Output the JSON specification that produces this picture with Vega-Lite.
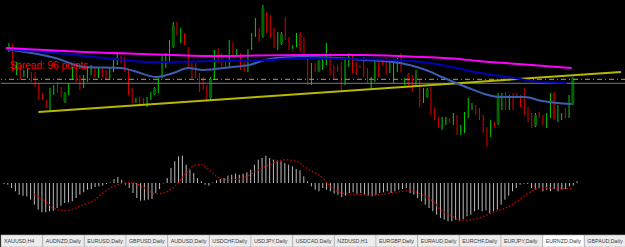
{
"$schema": "https://vega.github.io/schema/vega-lite/v6.json",
"background": "#000000",
"padding": 0,
"spacing": 0,
"bounds": "flush",
"config": {"view": {"stroke": null}, "axis": {"disable": true}, "legend": {"disable": true}},
"datasets": {
"candles": [
{"i":0,"o":101,"h":107,"l":98,"c":104},{"i":1,"o":95,"h":106,"l":78,"c":91},{"i":2,"o":79,"h":88,"l":75,"c":83},{"i":3,"o":80,"h":85,"l":70,"c":76},{"i":4,"o":75,"h":80,"l":73,"c":78},{"i":5,"o":75,"h":82,"l":72,"c":79},{"i":6,"o":75,"h":78,"l":68,"c":71},{"i":7,"o":73,"h":78,"l":63,"c":68},{"i":8,"o":61,"h":67,"l":50,"c":57},{"i":9,"o":55,"h":57,"l":50,"c":52},
{"i":10,"o":48,"h":50,"l":42,"c":45},{"i":11,"o":47,"h":62,"l":38,"c":51},{"i":12,"o":58,"h":65,"l":55,"c":62},{"i":13,"o":64,"h":68,"l":57,"c":60},{"i":14,"o":60,"h":63,"l":53,"c":56},{"i":15,"o":48,"h":58,"l":47,"c":57},{"i":16,"o":59,"h":67,"l":55,"c":63},{"i":17,"o":74,"h":83,"l":70,"c":78},{"i":18,"o":78,"h":82,"l":68,"c":74},{"i":19,"o":70,"h":75,"l":60,"c":65},
{"i":20,"o":66,"h":75,"l":62,"c":70},{"i":21,"o":72,"h":83,"l":68,"c":76},{"i":22,"o":78,"h":85,"l":75,"c":82},{"i":23,"o":79,"h":82,"l":73,"c":76},{"i":24,"o":75,"h":82,"l":72,"c":79},{"i":25,"o":80,"h":83,"l":73,"c":76},{"i":26,"o":77,"h":80,"l":70,"c":73},{"i":27,"o":74,"h":83,"l":70,"c":78},{"i":28,"o":82,"h":90,"l":78,"c":86},{"i":29,"o":89,"h":97,"l":85,"c":93},
{"i":30,"o":92,"h":94,"l":87,"c":89},{"i":31,"o":87,"h":93,"l":78,"c":83},{"i":32,"o":70,"h":80,"l":55,"c":66},{"i":33,"o":57,"h":62,"l":47,"c":53},{"i":34,"o":49,"h":52,"l":47,"c":51},{"i":35,"o":51,"h":53,"l":45,"c":48},{"i":36,"o":50,"h":52,"l":45,"c":47},{"i":37,"o":46,"h":53,"l":43,"c":50},{"i":38,"o":52,"h":58,"l":50,"c":56},{"i":39,"o":56,"h":63,"l":55,"c":62},
{"i":40,"o":62,"h":73,"l":57,"c":66},{"i":41,"o":80,"h":95,"l":72,"c":84},{"i":42,"o":86,"h":97,"l":82,"c":90},{"i":43,"o":95,"h":110,"l":87,"c":99},{"i":44,"o":103,"h":128,"l":102,"c":125},{"i":45,"o":123,"h":128,"l":115,"c":119},{"i":46,"o":112,"h":122,"l":107,"c":116},{"i":47,"o":113,"h":117,"l":105,"c":109},{"i":48,"o":95,"h":103,"l":82,"c":91},{"i":49,"o":82,"h":87,"l":72,"c":78},
{"i":50,"o":81,"h":87,"l":72,"c":77},{"i":51,"o":70,"h":77,"l":58,"c":66},{"i":52,"o":68,"h":73,"l":60,"c":64},{"i":53,"o":58,"h":65,"l":50,"c":54},{"i":54,"o":52,"h":73,"l":50,"c":71},{"i":55,"o":84,"h":100,"l":70,"c":88},{"i":56,"o":97,"h":102,"l":87,"c":93},{"i":57,"o":92,"h":97,"l":83,"c":88},{"i":58,"o":88,"h":90,"l":82,"c":85},{"i":59,"o":90,"h":110,"l":82,"c":94},
{"i":60,"o":104,"h":108,"l":93,"c":100},{"i":61,"o":96,"h":101,"l":93,"c":99},{"i":62,"o":92,"h":97,"l":80,"c":88},{"i":63,"o":86,"h":90,"l":78,"c":82},{"i":64,"o":84,"h":101,"l":78,"c":88},{"i":65,"o":104,"h":117,"l":100,"c":108},{"i":66,"o":118,"h":132,"l":113,"c":122},{"i":67,"o":118,"h":122,"l":108,"c":114},{"i":68,"o":114,"h":145,"l":112,"c":142},{"i":69,"o":132,"h":138,"l":117,"c":128},
{"i":70,"o":128,"h":135,"l":112,"c":124},{"i":71,"o":116,"h":122,"l":102,"c":112},{"i":72,"o":105,"h":118,"l":100,"c":109},{"i":73,"o":106,"h":118,"l":105,"c":116},{"i":74,"o":125,"h":133,"l":110,"c":121},{"i":75,"o":108,"h":113,"l":100,"c":104},{"i":76,"o":102,"h":105,"l":101,"c":104},{"i":77,"o":107,"h":117,"l":103,"c":111},{"i":78,"o":116,"h":118,"l":98,"c":100},{"i":79,"o":106,"h":113,"l":92,"c":102},
{"i":80,"o":82,"h":95,"l":65,"c":78},{"i":81,"o":73,"h":87,"l":65,"c":77},{"i":82,"o":84,"h":87,"l":78,"c":81},{"i":83,"o":79,"h":90,"l":78,"c":89},{"i":84,"o":83,"h":92,"l":80,"c":87},{"i":85,"o":92,"h":107,"l":85,"c":96},{"i":86,"o":90,"h":97,"l":75,"c":86},{"i":87,"o":80,"h":85,"l":70,"c":76},{"i":88,"o":83,"h":85,"l":78,"c":80},{"i":89,"o":80,"h":88,"l":60,"c":76},
{"i":90,"o":73,"h":92,"l":65,"c":77},{"i":91,"o":87,"h":97,"l":83,"c":91},{"i":92,"o":90,"h":95,"l":77,"c":86},{"i":93,"o":84,"h":88,"l":75,"c":80},{"i":94,"o":84,"h":85,"l":82,"c":83},{"i":95,"o":88,"h":93,"l":73,"c":84},{"i":96,"o":78,"h":82,"l":67,"c":74},{"i":97,"o":65,"h":73,"l":62,"c":69},{"i":98,"o":75,"h":90,"l":68,"c":79},{"i":99,"o":86,"h":90,"l":73,"c":82},
{"i":100,"o":87,"h":88,"l":85,"c":86},{"i":101,"o":86,"h":92,"l":75,"c":82},{"i":102,"o":80,"h":88,"l":77,"c":84},{"i":103,"o":76,"h":90,"l":67,"c":80},{"i":104,"o":82,"h":92,"l":78,"c":86},{"i":105,"o":90,"h":97,"l":78,"c":86},{"i":106,"o":67,"h":72,"l":65,"c":70},{"i":107,"o":76,"h":77,"l":65,"c":66},{"i":108,"o":70,"h":75,"l":58,"c":66},{"i":109,"o":68,"h":80,"l":63,"c":72},
{"i":110,"o":62,"h":70,"l":43,"c":58},{"i":111,"o":51,"h":62,"l":47,"c":55},{"i":112,"o":53,"h":62,"l":52,"c":61},{"i":113,"o":55,"h":63,"l":35,"c":51},{"i":114,"o":38,"h":42,"l":30,"c":35},{"i":115,"o":31,"h":33,"l":22,"c":28},{"i":116,"o":24,"h":33,"l":20,"c":28},{"i":117,"o":27,"h":33,"l":25,"c":30},{"i":118,"o":31,"h":32,"l":27,"c":29},{"i":119,"o":28,"h":37,"l":25,"c":32},
{"i":120,"o":30,"h":35,"l":15,"c":26},{"i":121,"o":18,"h":25,"l":15,"c":22},{"i":122,"o":24,"h":38,"l":17,"c":28},{"i":123,"o":38,"h":52,"l":32,"c":42},{"i":124,"o":42,"h":47,"l":40,"c":45},{"i":125,"o":42,"h":45,"l":35,"c":39},{"i":126,"o":38,"h":42,"l":30,"c":34},{"i":127,"o":30,"h":35,"l":17,"c":26},{"i":128,"o":18,"h":23,"l":3,"c":14},{"i":129,"o":18,"h":30,"l":13,"c":22},
{"i":130,"o":27,"h":28,"l":23,"c":25},{"i":131,"o":27,"h":57,"l":25,"c":55},{"i":132,"o":45,"h":57,"l":40,"c":49},{"i":133,"o":52,"h":58,"l":40,"c":48},{"i":134,"o":44,"h":55,"l":40,"c":48},{"i":135,"o":52,"h":57,"l":40,"c":48},{"i":136,"o":56,"h":57,"l":52,"c":54},{"i":137,"o":51,"h":55,"l":43,"c":47},{"i":138,"o":52,"h":62,"l":35,"c":48},{"i":139,"o":38,"h":43,"l":28,"c":34},
{"i":140,"o":33,"h":37,"l":22,"c":29},{"i":141,"o":24,"h":37,"l":23,"c":35},{"i":142,"o":36,"h":38,"l":32,"c":34},{"i":143,"o":32,"h":35,"l":25,"c":29},{"i":144,"o":26,"h":37,"l":22,"c":30},{"i":145,"o":40,"h":57,"l":32,"c":44},{"i":146,"o":56,"h":58,"l":30,"c":32},{"i":147,"o":33,"h":45,"l":28,"c":37},{"i":148,"o":32,"h":37,"l":30,"c":35},{"i":149,"o":39,"h":42,"l":32,"c":36},
{"i":150,"o":40,"h":55,"l":32,"c":44},{"i":151,"o":46,"h":73,"l":45,"c":72}
],
"magenta": [{"i":-0.8,"v":102},{"i":9.8,"v":100},{"i":20.3,"v":98},{"i":36.1,"v":96},{"i":54.5,"v":94},{"i":78.3,"v":95},{"i":94.1,"v":95},{"i":107.2,"v":93.5},{"i":119.1,"v":91.5},{"i":125.7,"v":89},{"i":136.2,"v":86},{"i":146.8,"v":83},{"i":150.7,"v":82}],
"navy": [{"i":-0.8,"v":101},{"i":12.4,"v":97},{"i":25.6,"v":92},{"i":38.7,"v":88},{"i":54.5,"v":89},{"i":69.6,"v":90},{"i":78.3,"v":92},{"i":91.4,"v":91},{"i":107.2,"v":89},{"i":115.9,"v":85},{"i":124.9,"v":78},{"i":133.6,"v":73},{"i":142.3,"v":68},{"i":149.4,"v":67}],
"steel": [{"i":-0.8,"v":101},{"i":4.5,"v":98},{"i":12.4,"v":92},{"i":20.3,"v":83},{"i":30,"v":82},{"i":33.5,"v":79},{"i":39.5,"v":73},{"i":44,"v":77},{"i":48,"v":82},{"i":51.9,"v":80},{"i":59.8,"v":83},{"i":64.3,"v":85},{"i":68.5,"v":90},{"i":71.7,"v":92},{"i":78.3,"v":93},{"i":88,"v":92},{"i":94.9,"v":90},{"i":102.8,"v":88},{"i":107.2,"v":85},{"i":111.7,"v":80},{"i":115.9,"v":73},{"i":119.1,"v":68},{"i":123.1,"v":62},{"i":128.3,"v":55},{"i":131,"v":53},{"i":138.1,"v":53},{"i":142.8,"v":49},{"i":146.8,"v":47},{"i":150.7,"v":46}],
"trend": [{"i":7.9,"v":38},{"i":163.9,"v":78}],
"spread": [{"i":0.2,"v":81,"label":"Spread: 96 points"}],
"macd": [
{"i":0,"m":-1},{"i":1,"m":-1.7},{"i":2,"m":-5},{"i":3,"m":-8.3},{"i":4,"m":-11.7},{"i":5,"m":-12.7},{"i":6,"m":-13.3},{"i":7,"m":-16.7},{"i":8,"m":-21.7},{"i":9,"m":-26.7},
{"i":10,"m":-29.3},{"i":11,"m":-29.3},{"i":12,"m":-28.3},{"i":13,"m":-27.7},{"i":14,"m":-25},{"i":15,"m":-22.7},{"i":16,"m":-20},{"i":17,"m":-19.3},{"i":18,"m":-18.3},{"i":19,"m":-15},
{"i":20,"m":-11.7},{"i":21,"m":-9.3},{"i":22,"m":-6.7},{"i":23,"m":-6},{"i":24,"m":-4},{"i":25,"m":-3.3},{"i":26,"m":-2.7},{"i":27,"m":-1},{"i":28,"m":0.5},{"i":29,"m":4},
{"i":30,"m":6},{"i":31,"m":3.3},{"i":32,"m":-1.7},{"i":33,"m":-5},{"i":34,"m":-10},{"i":35,"m":-15},{"i":36,"m":-17.7},{"i":37,"m":-17.3},{"i":38,"m":-16.7},{"i":39,"m":-16},
{"i":40,"m":-10},{"i":41,"m":-6},{"i":42,"m":-0.5},{"i":43,"m":5},{"i":44,"m":15},{"i":45,"m":21.7},{"i":46,"m":26.7},{"i":47,"m":27.3},{"i":48,"m":18.3},{"i":49,"m":13.3},
{"i":50,"m":10},{"i":51,"m":5},{"i":52,"m":1.7},{"i":53,"m":-1.7},{"i":54,"m":-2.7},{"i":55,"m":0.5},{"i":56,"m":2.7},{"i":57,"m":4},{"i":58,"m":5},{"i":59,"m":7.3},
{"i":60,"m":8.3},{"i":61,"m":9.3},{"i":62,"m":8.3},{"i":63,"m":9.3},{"i":64,"m":10.7},{"i":65,"m":13.3},{"i":66,"m":18.3},{"i":67,"m":23.3},{"i":68,"m":25},{"i":69,"m":27.3},
{"i":70,"m":25},{"i":71,"m":23.3},{"i":72,"m":22.7},{"i":73,"m":21.7},{"i":74,"m":20},{"i":75,"m":18.3},{"i":76,"m":16.7},{"i":77,"m":14},{"i":78,"m":12.7},{"i":79,"m":6.7},
{"i":80,"m":1.7},{"i":81,"m":-3.3},{"i":82,"m":-6.7},{"i":83,"m":-8.3},{"i":84,"m":-5},{"i":85,"m":-6.7},{"i":86,"m":-8.3},{"i":87,"m":-10.7},{"i":88,"m":-11.7},{"i":89,"m":-14},
{"i":90,"m":-12.7},{"i":91,"m":-10},{"i":92,"m":-9.3},{"i":93,"m":-10.7},{"i":94,"m":-10},{"i":95,"m":-11.7},{"i":96,"m":-12.7},{"i":97,"m":-13.3},{"i":98,"m":-11.7},{"i":99,"m":-10},
{"i":100,"m":-9.3},{"i":101,"m":-8.3},{"i":102,"m":-10},{"i":103,"m":-8.3},{"i":104,"m":-6.7},{"i":105,"m":-6},{"i":106,"m":-5},{"i":107,"m":-10},{"i":108,"m":-11.7},{"i":109,"m":-15},
{"i":110,"m":-18.3},{"i":111,"m":-21.7},{"i":112,"m":-25},{"i":113,"m":-28.3},{"i":114,"m":-31.7},{"i":115,"m":-35},{"i":116,"m":-36.7},{"i":117,"m":-38.3},{"i":118,"m":-38.3},{"i":119,"m":-36.7},
{"i":120,"m":-38.3},{"i":121,"m":-36},{"i":122,"m":-33.3},{"i":123,"m":-31.7},{"i":124,"m":-28.3},{"i":125,"m":-26.7},{"i":126,"m":-28.3},{"i":127,"m":-27.3},{"i":128,"m":-30},{"i":129,"m":-28.3},
{"i":130,"m":-26.7},{"i":131,"m":-21.7},{"i":132,"m":-16.7},{"i":133,"m":-12.7},{"i":134,"m":-8.3},{"i":135,"m":-5},{"i":136,"m":-1.7},{"i":137,"m":-0.7},{"i":138,"m":-1},{"i":139,"m":-5},
{"i":140,"m":-6.7},{"i":141,"m":-5},{"i":142,"m":-8.3},{"i":143,"m":-6.7},{"i":144,"m":-8.3},{"i":145,"m":-6},{"i":146,"m":-8.3},{"i":147,"m":-6.7},{"i":148,"m":-6},{"i":149,"m":-3.3},
{"i":150,"m":-2.5},{"i":151,"m":1.7}
],
"signal": [{"i":8,"s":-11.7},{"i":11,"s":-18.3},{"i":13,"s":-25},{"i":16,"s":-27.7},{"i":19,"s":-25},{"i":21,"s":-21.7},{"i":24,"s":-16.7},{"i":26,"s":-10},{"i":29,"s":-3.3},{"i":32,"s":0},{"i":34,"s":0},{"i":37,"s":-5},{"i":40,"s":-10.7},{"i":42,"s":-10},{"i":45,"s":-3.3},{"i":48,"s":10},{"i":50,"s":17.3},{"i":52,"s":18.3},{"i":54,"s":13.3},{"i":56,"s":6.7},{"i":59,"s":3.3},{"i":62,"s":4},{"i":64,"s":6.7},{"i":67,"s":13.3},{"i":70,"s":18.3},{"i":72,"s":21.7},{"i":74,"s":23.3},{"i":77,"s":21.7},{"i":79,"s":16.7},{"i":81,"s":12},{"i":84,"s":5},{"i":86,"s":-3.3},{"i":89,"s":-10},{"i":91,"s":-11},{"i":94,"s":-11.7},{"i":97,"s":-12.3},{"i":99,"s":-11.7},{"i":102,"s":-10},{"i":105,"s":-8.3},{"i":107,"s":-7.3},{"i":110,"s":-11.7},{"i":113,"s":-18.3},{"i":115,"s":-26.7},{"i":118,"s":-32.7},{"i":120,"s":-37.3},{"i":123,"s":-36.7},{"i":126,"s":-34},{"i":128,"s":-30.7},{"i":131,"s":-26.7},{"i":134,"s":-21.7},{"i":136,"s":-16},{"i":139,"s":-8.3},{"i":141,"s":-5},{"i":143,"s":-5},{"i":146,"s":-5},{"i":149,"s":-5.7},{"i":150,"s":-5}],
"tabs": [{"tab":"XAUUSD,H4"},{"tab":"AUDNZD,Daily"},{"tab":"EURUSD,Daily"},{"tab":"GBPUSD,Daily"},{"tab":"AUDUSD,Daily"},{"tab":"USDCHF,Daily"},{"tab":"USDJPY,Daily"},{"tab":"USDCAD,Daily"},{"tab":"NZDUSD,H1"},{"tab":"EURGBP,Daily"},{"tab":"EURAUD,Daily"},{"tab":"EURCHF,Daily"},{"tab":"EURJPY,Daily"},{"tab":"EURNZD,Daily"},{"tab":"GBPAUD,Daily"}]
},
"vconcat": [
{
"width": 625, "height": 150,
"layer": [
{"data": {"name": "candles"}, "mark": {"type": "rule", "strokeWidth": 1, "clip": true},
 "encoding": {"x": {"field": "i", "type": "quantitative", "scale": {"domain": [-0.79, 163.9], "nice": false, "zero": false}},
  "y": {"field": "l", "type": "quantitative", "scale": {"domain": [0, 150], "nice": false, "zero": false}}, "y2": {"field": "h"},
  "color": {"condition": {"test": "datum.c >= datum.o", "value": "#00d000"}, "value": "#e00000"}}},
{"data": {"name": "candles"}, "transform": [{"filter": "abs(datum.c - datum.o) >= 6"}], "mark": {"type": "bar", "width": 3, "clip": true},
 "encoding": {"x": {"field": "i", "type": "quantitative"}, "y": {"field": "o", "type": "quantitative"}, "y2": {"field": "c"},
  "color": {"condition": {"test": "datum.c >= datum.o", "value": "#006400"}, "value": "#800000"}}},
{"data": {"values": [{}]}, "mark": {"type": "rule", "stroke": "#c8964a", "strokeWidth": 1, "strokeDash": [5, 3, 1, 3]},
 "encoding": {"y": {"datum": 70.7, "type": "quantitative"}}},
{"data": {"values": [{}]}, "mark": {"type": "rule", "stroke": "#6f7f8f", "strokeWidth": 1},
 "encoding": {"y": {"datum": 66.7, "type": "quantitative"}}},
{"data": {"name": "trend"}, "mark": {"type": "line", "stroke": "#b8b800", "strokeWidth": 2, "clip": true},
 "encoding": {"x": {"field": "i", "type": "quantitative"}, "y": {"field": "v", "type": "quantitative"}}},
{"data": {"name": "steel"}, "mark": {"type": "line", "stroke": "#3a5fb0", "strokeWidth": 2, "interpolate": "monotone", "clip": true},
 "encoding": {"x": {"field": "i", "type": "quantitative"}, "y": {"field": "v", "type": "quantitative"}}},
{"data": {"name": "navy"}, "mark": {"type": "line", "stroke": "#0000b4", "strokeWidth": 2, "interpolate": "monotone", "clip": true},
 "encoding": {"x": {"field": "i", "type": "quantitative"}, "y": {"field": "v", "type": "quantitative"}}},
{"data": {"name": "magenta"}, "mark": {"type": "line", "stroke": "#ff00ff", "strokeWidth": 2, "interpolate": "monotone", "clip": true},
 "encoding": {"x": {"field": "i", "type": "quantitative"}, "y": {"field": "v", "type": "quantitative"}}},
{"data": {"name": "spread"}, "mark": {"type": "text", "align": "left", "baseline": "alphabetic", "font": "Liberation Sans", "fontSize": 10, "fill": "#ff0000"},
 "encoding": {"x": {"field": "i", "type": "quantitative"}, "y": {"field": "v", "type": "quantitative"}, "text": {"field": "label"}}}
]
},
{
"width": 625, "height": 85,
"layer": [
{"data": {"name": "macd"}, "mark": {"type": "rule", "strokeWidth": 1, "stroke": "#bcbcbc", "clip": true},
 "encoding": {"x": {"field": "i", "type": "quantitative", "scale": {"domain": [-0.79, 163.9], "nice": false, "zero": false}},
  "y": {"field": "m", "type": "quantitative", "scale": {"domain": [-52, 33], "nice": false, "zero": false}}, "y2": {"datum": 0}}},
{"data": {"name": "signal"}, "mark": {"type": "line", "stroke": "#d00000", "strokeWidth": 1.3, "strokeDash": [1.5, 2], "interpolate": "monotone", "clip": true},
 "encoding": {"x": {"field": "i", "type": "quantitative"}, "y": {"field": "s", "type": "quantitative"}}}
]
},
{
"width": 625, "height": 12,
"layer": [
{"data": {"name": "tabs"}, "mark": {"type": "bar", "stroke": "#b0b0b0", "strokeWidth": 0.6},
 "encoding": {"x": {"field": "tab", "type": "nominal", "sort": null, "scale": {"paddingInner": 0, "paddingOuter": 0}},
  "color": {"condition": {"test": "datum.tab === 'EURNZD,Daily'", "value": "#ffffff"}, "value": "#ececec"}}},
{"data": {"name": "tabs"}, "mark": {"type": "text", "align": "left", "baseline": "middle", "dx": 3, "font": "Liberation Sans", "fontSize": 5.3, "fill": "#3a3a3a"},
 "encoding": {"x": {"field": "tab", "type": "nominal", "sort": null, "bandPosition": 0}, "text": {"field": "tab"}}}
]
}
]
}
